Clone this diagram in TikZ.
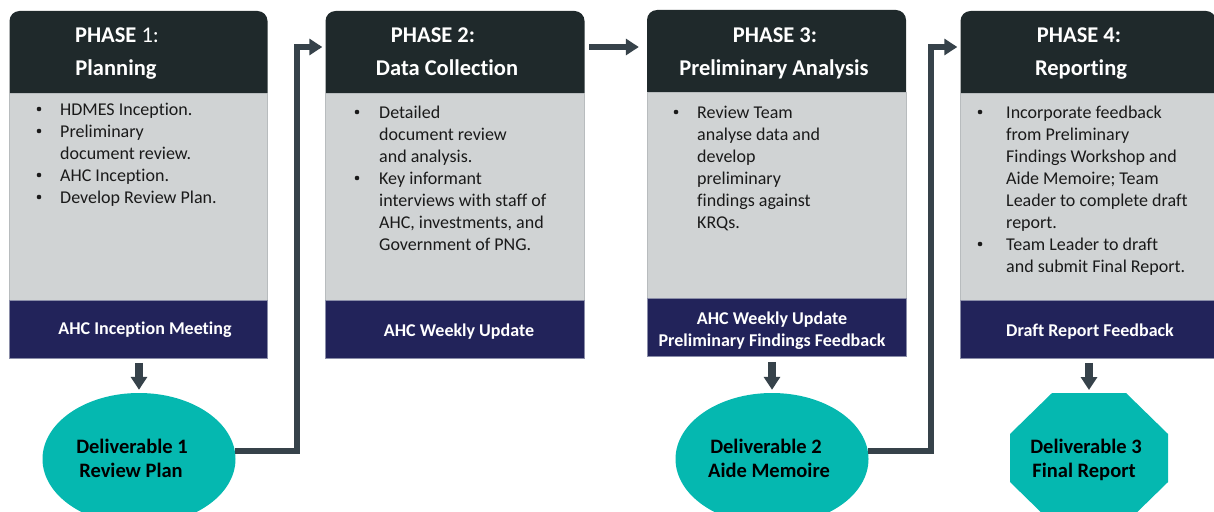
\documentclass[tikz,border=0pt]{standalone}
\usepackage{fontspec}
\setmainfont{Carlito}[Ligatures=NoCommon]
\usetikzlibrary{arrows.meta,shapes.geometric}
\definecolor{hdrc}{HTML}{1F292B}
\definecolor{bodyc}{HTML}{D0D3D4}
\definecolor{bodyedge}{HTML}{B8BCBE}
\definecolor{footc}{HTML}{22235A}
\definecolor{footedge}{HTML}{8A8DA8}
\definecolor{tealc}{HTML}{05B8B0}
\definecolor{linec}{HTML}{36424A}
\definecolor{txtc}{HTML}{1A1A1A}
\tikzset{
  hdrbox/.style={fill=hdrc, rounded corners=10pt, inner sep=0pt, minimum height=92pt},
  bodybox/.style={fill=bodyc, draw=bodyedge, line width=0.6pt, inner sep=0pt, minimum height=207pt},
  footbox/.style={fill=footc, draw=footedge, line width=0.6pt, inner sep=0pt, minimum height=58pt},
  htext/.style={text=white, font=\bfseries\fontsize{22.5}{27}\selectfont, anchor=base, inner sep=0pt},
  ftext/.style={text=white, font=\bfseries\fontsize{18}{22}\selectfont, anchor=base, inner sep=0pt},
  itemtext/.style={text=txtc, font=\fontsize{18}{22}\selectfont, anchor=base west, inner sep=0pt},
  dtext/.style={text=black, font=\bfseries\fontsize{20.5}{24}\selectfont, anchor=base, inner sep=0pt},
  deliv/.style={ellipse, fill=tealc, inner sep=0pt, minimum width=193pt, minimum height=132pt},
  conn/.style={draw=linec, line width=6pt, -{Triangle[width=16pt,length=13pt]}},
  downarr/.style={draw=linec, line width=8pt, -{Triangle[width=16pt,length=13pt]}},
  bul/.style={fill=txtc},
}
\begin{document}
\begin{tikzpicture}[x=1pt,y=-1pt]
\useasboundingbox (0,0) rectangle (1214,511);
\clip (0,0) rectangle (1214,511);

% ---------- boxes ----------
\node[hdrbox, minimum width=258pt] (h1) at (138.5,57) {};
\node[hdrbox, minimum width=259pt] (h2) at (455,57) {};
\node[hdrbox, minimum width=259pt] (h3) at (776.5,56) {};
\node[hdrbox, minimum width=255.5pt] (h4) at (1088.25,57) {};

\node[bodybox, minimum width=258pt] (b1) at (138.5,196.5) {};
\node[bodybox, minimum width=259pt] (b2) at (455,196.5) {};
\node[bodybox, minimum width=259pt] (b3) at (776.5,195.5) {};
\node[bodybox, minimum width=255.5pt] (b4) at (1088.25,196.5) {};

\node[footbox, minimum width=258pt] (f1) at (138.5,329.5) {};
\node[footbox, minimum width=259pt] (f2) at (455,329.5) {};
\node[footbox, minimum width=259pt] (f3) at (776.5,327.5) {};
\node[footbox, minimum width=255.5pt] (f4) at (1088.25,329.5) {};

% ---------- header texts ----------
\node[htext] (h1a) at (117,42) {PHASE \mdseries 1:};
\node[htext] (h1b) at (116,75) {Planning};
\node[htext] (h2a) at (433,42) {PHASE 2:};
\node[htext] (h2b) at (447,75) {Data Collection};
\node[htext] (h3a) at (775,42) {PHASE 3:};
\node[htext] (h3b) at (774,75) {Preliminary Analysis};
\node[htext] (h4a) at (1079,42) {PHASE 4:};
\node[htext] (h4b) at (1081,75) {Reporting};

% ---------- body texts ----------
\foreach \t [count=\i] in {HDMES Inception., Preliminary, document review., AHC Inception., Develop Review Plan.}
  \node[itemtext] (b1l\i) at (60,{115+22*(\i-1)}) {\t};
\foreach \i in {1,2,4,5}
  \fill[bul] (39,{115+22*(\i-1)-6}) circle (2.3);

\foreach \t [count=\i] in {Detailed, document review, and analysis., Key informant, interviews with staff of, {AHC, investments, and}, Government of PNG.}
  \node[itemtext] (b2l\i) at (379,{118+22*(\i-1)}) {\t};
\foreach \i in {1,4}
  \fill[bul] (357,{118+22*(\i-1)-6}) circle (2.3);

\foreach \t [count=\i] in {Review Team, analyse data and, develop, preliminary, findings against, KRQs.}
  \node[itemtext] (b3l\i) at (697,{118+22*(\i-1)}) {\t};
\fill[bul] (676,112) circle (2.3);

\foreach \t [count=\i] in {Incorporate feedback, from Preliminary, Findings Workshop and, Aide Memoire; Team, Leader to complete draft, report., Team Leader to draft, and submit Final Report.}
  \node[itemtext] (b4l\i) at (1006,{118+22*(\i-1)}) {\t};
\foreach \i in {1,7}
  \fill[bul] (980,{118+22*(\i-1)-6}) circle (2.3);

% ---------- footer texts ----------
\node[ftext] (f1t) at (145,334) {AHC Inception Meeting};
\node[ftext] (f2t) at (459,336) {AHC Weekly Update};
\node[ftext] (f3a) at (772,324) {AHC Weekly Update};
\node[ftext] (f3b) at (772,346) {Preliminary Findings Feedback};
\node[ftext] (f4t) at (1090,336) {Draft Report Feedback};

% ---------- deliverables ----------
\node[deliv] (d1) at (139,459) {};
\node[deliv] (d2) at (772,459) {};
\coordinate (d3) at (1089,458);
\coordinate (d3top) at (1089,393);
\fill[tealc] (1052,393) -- (1126,393) -- (1168,434) -- (1168,482) -- (1126,523)
  -- (1052,523) -- (1010,482) -- (1010,434) -- cycle;

\node[dtext] (d1a) at (132,453) {Deliverable 1};
\node[dtext] (d1b) at (131,477) {Review Plan};
\node[dtext] (d2a) at (766,453) {Deliverable 2};
\node[dtext] (d2b) at (769,477) {Aide Memoire};
\node[dtext] (d3a) at (1086,453) {Deliverable 3};
\node[dtext] (d3b) at (1084,477) {Final Report};

% ---------- connectors ----------
\coordinate (j1) at (297,47);
\coordinate (j3) at (931,47);
\coordinate (k2) at (589,47);

\draw[downarr, shorten <=4pt, shorten >=3pt] (f1.south -| d1.north) -- (d1.north);
\draw[downarr, shorten <=5pt, shorten >=3pt] (f3.south -| d2.north) -- (d2.north);
\draw[downarr, shorten <=4pt, shorten >=3pt] (f4.south -| d3top) -- (d3top);

\draw[conn, shorten >=3pt] (d1.5) -| (j1) -- (h2.west |- j1);
\draw[conn, shorten >=8pt] (k2) -- (h3.west |- k2);
\draw[conn, shorten >=3pt] (d2.5) -| (j3) -- (h4.west |- j3);
\end{tikzpicture}
\end{document}
